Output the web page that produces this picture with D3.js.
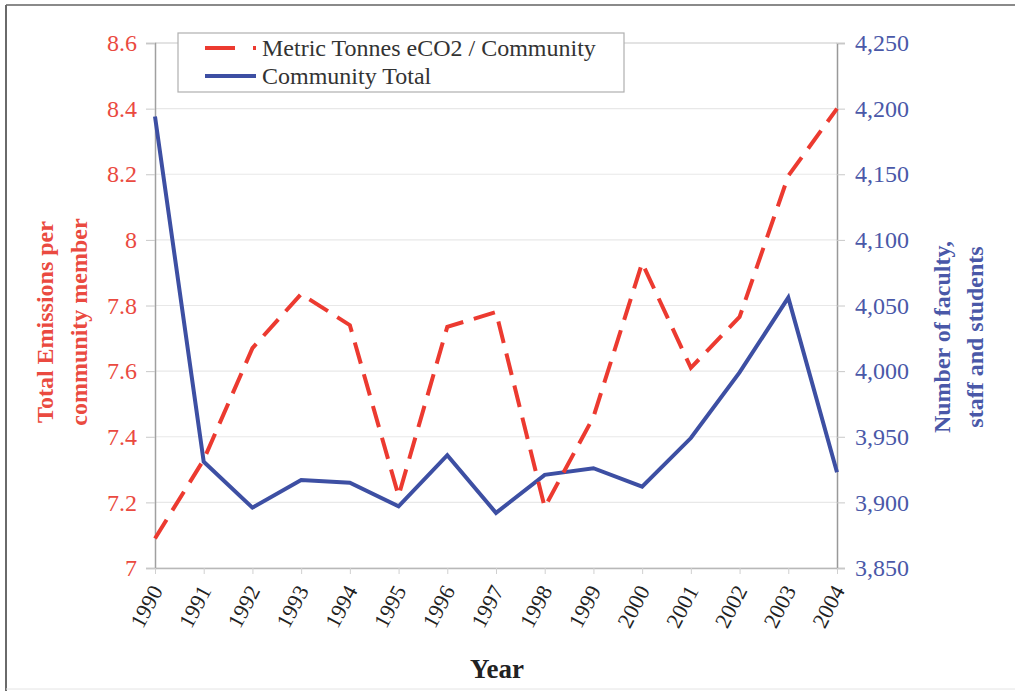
<!DOCTYPE html>
<html>
<head>
<meta charset="utf-8">
<script src="https://cdn.jsdelivr.net/npm/d3@7"></script>
<style>
  body { margin: 0; background: #fff; }
  svg { display: block; font-family: "Liberation Serif", "Times New Roman", serif; }
</style>
</head>
<body>
<div id="chart"></div>
<script>
// chart data
const years = [1990, 1991, 1992, 1993, 1994, 1995, 1996, 1997, 1998, 1999, 2000, 2001, 2002, 2003, 2004];
const perMember = [7.09, 7.33, 7.67, 7.835, 7.74, 7.22, 7.735, 7.78, 7.185, 7.46, 7.93, 7.61, 7.765, 8.195, 8.40];
const communityTotal = [4194, 3931, 3896, 3917, 3915, 3897, 3936, 3892, 3921, 3926, 3912, 3949, 3999, 4056, 3923];
const leftTicks = [7, 7.2, 7.4, 7.6, 7.8, 8, 8.2, 8.4, 8.6];
const rightTicks = [3850, 3900, 3950, 4000, 4050, 4100, 4150, 4200, 4250];
const seriesNames = ['Metric Tonnes eCO2 / Community', 'Community Total'];

const W = 1015, H = 691;
const plot = { left: 155, right: 837, top: 43, bottom: 568 };
const red = '#ec3a30', blue = '#3d4fa3';
const redText = '#ea4a40', blueText = '#4a58a8';

const svg = d3.select('#chart').append('svg')
  .attr('width', W)
  .attr('height', H);

// outer frame
svg.append('line').attr('x1', 6).attr('x2', W).attr('y1', 5).attr('y2', 5)
  .attr('stroke', '#8a8a8a').attr('stroke-width', 2);
svg.append('line').attr('x1', 6).attr('x2', 6).attr('y1', 5).attr('y2', H)
  .attr('stroke', '#6a6a6a').attr('stroke-width', 2);
svg.append('line').attr('x1', 6).attr('x2', W).attr('y1', 689).attr('y2', 689)
  .attr('stroke', '#e4e4e4').attr('stroke-width', 1);

const x = d3.scalePoint()
  .domain(years)
  .range([plot.left, plot.right]);

const yL = d3.scaleLinear()
  .domain([7, 8.6])
  .range([plot.bottom, plot.top]);

const yR = d3.scaleLinear()
  .domain([3850, 4250])
  .range([plot.bottom, plot.top]);

// gridlines
svg.append('g')
  .selectAll('line')
  .data(leftTicks)
  .enter()
  .append('line')
  .attr('x1', plot.left)
  .attr('x2', plot.right)
  .attr('y1', (d) => yL(d))
  .attr('y2', (d) => yL(d))
  .attr('stroke', (d) => d === 8.6 ? '#c8c8c8' : '#e8e8e8')
  .attr('stroke-width', 1.2);

// left axis
const leftAxis = svg.append('g')
  .attr('transform', `translate(${plot.left},0)`)
  .call(d3.axisLeft(yL).tickValues(leftTicks).tickSize(9).tickPadding(9)
    .tickFormat((d) => d3.format('')(+d.toFixed(1))));
leftAxis.select('.domain').attr('stroke', '#a0a0a0').attr('stroke-width', 1.5);
leftAxis.selectAll('.tick line').attr('stroke', '#c8c8c8');
leftAxis.selectAll('.tick text')
  .attr('fill', redText)
  .style('font-size', '24px')
  .style('font-family', '"Liberation Serif", serif');

// right axis
const rightAxis = svg.append('g')
  .attr('transform', `translate(${plot.right},0)`)
  .call(d3.axisRight(yR).tickValues(rightTicks).tickSize(8).tickPadding(10)
    .tickFormat(d3.format(',')));
rightAxis.select('.domain').attr('stroke', '#999').attr('stroke-width', 1.5);
rightAxis.selectAll('.tick line').attr('stroke', '#c8c8c8');
rightAxis.selectAll('.tick text')
  .attr('fill', blueText)
  .style('font-size', '24px')
  .style('font-family', '"Liberation Serif", serif');

// bottom axis
const bottomAxis = svg.append('g')
  .attr('transform', `translate(0,${plot.bottom})`)
  .call(d3.axisBottom(x).tickSize(6).tickSizeOuter(0));
bottomAxis.select('.domain').attr('stroke', '#b8b8b8').attr('stroke-width', 1.5);
bottomAxis.selectAll('.tick line').attr('stroke', '#d0d0d0');
bottomAxis.selectAll('.tick text')
  .attr('fill', '#222')
  .style('font-size', '22px')
  .style('font-family', '"Liberation Serif", serif')
  .attr('text-anchor', 'end')
  .attr('dy', '0.35em')
  .attr('transform', 'translate(1,19) rotate(-62)')
  .attr('x', 0)
  .attr('y', 0);

// lines
const redLine = d3.line()
  .x((d, i) => x(years[i]))
  .y((d) => yL(d));

const blueLine = d3.line()
  .x((d, i) => x(years[i]))
  .y((d) => yR(d));

svg.append('path')
  .datum(communityTotal)
  .attr('d', blueLine)
  .attr('fill', 'none')
  .attr('stroke', blue)
  .attr('stroke-width', 4)
  .attr('stroke-linejoin', 'miter');

svg.append('path')
  .datum(perMember)
  .attr('d', redLine)
  .attr('fill', 'none')
  .attr('stroke', red)
  .attr('stroke-width', 4)
  .attr('stroke-dasharray', '22,11');

// axis titles
svg.append('text')
  .attr('transform', 'translate(53,322) rotate(-90)')
  .attr('text-anchor', 'middle')
  .attr('fill', redText)
  .style('font-size', '24px')
  .style('font-weight', 'bold')
  .selectAll('tspan')
  .data(['Total Emissions per', 'community member'])
  .enter()
  .append('tspan')
  .attr('x', 0)
  .attr('dy', (d, i) => i === 0 ? 0 : 34)
  .text((d) => d);

svg.append('text')
  .attr('transform', 'translate(950,337) rotate(-90)')
  .attr('text-anchor', 'middle')
  .attr('fill', blueText)
  .style('font-size', '24px')
  .style('font-weight', 'bold')
  .selectAll('tspan')
  .data(['Number of faculty,', 'staff and students'])
  .enter()
  .append('tspan')
  .attr('x', 0)
  .attr('dy', (d, i) => i === 0 ? 0 : 33)
  .text((d) => d);

svg.append('text')
  .attr('x', 497)
  .attr('y', 678)
  .attr('text-anchor', 'middle')
  .attr('fill', '#222')
  .style('font-size', '27px')
  .style('font-weight', 'bold')
  .text('Year');

// legend
const legend = svg.append('g');
legend.append('rect')
  .attr('x', 178).attr('y', 33)
  .attr('width', 446).attr('height', 59)
  .attr('fill', '#fff')
  .attr('stroke', '#b0b0b0')
  .attr('stroke-width', 1.2);

const legendRows = legend.selectAll('.row')
  .data(seriesNames)
  .enter()
  .append('g')
  .attr('class', 'row')
  .attr('transform', (d, i) => `translate(0,${i === 0 ? 48 : 76})`);

legendRows.append('line')
  .attr('x1', 205).attr('x2', 256)
  .attr('stroke', (d, i) => i === 0 ? red : blue)
  .attr('stroke-width', 4)
  .attr('stroke-dasharray', (d, i) => i === 0 ? '30,18' : null);

legendRows.append('text')
  .attr('x', 262)
  .attr('dy', '0.35em')
  .attr('fill', '#333')
  .style('font-size', '24px')
  .text((d) => d);
</script>
</body>
</html>
